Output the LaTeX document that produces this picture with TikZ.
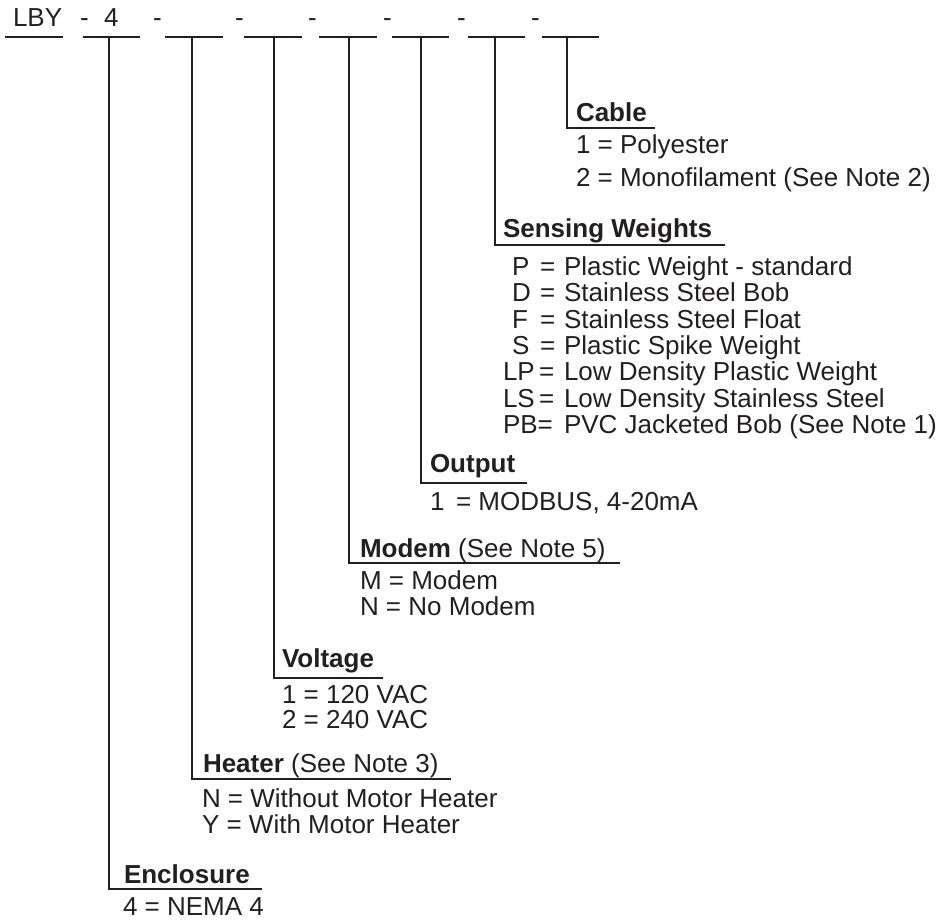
\documentclass[tikz,border=0pt]{standalone}
\usepackage{fontspec}
\setmainfont{Liberation Sans}
\definecolor{ink}{HTML}{231F20}
\begin{document}
\begin{tikzpicture}[x=1pt,y=-1pt,
  txt/.style={anchor=base west,inner sep=0pt,outer sep=0pt,font=\fontsize{26}{26}\selectfont,text=ink},
  lbl/.style={txt,font=\fontsize{26}{26}\selectfont\bfseries},
  topline/.style={draw=ink,line width=2.6pt},
  ln/.style={draw=ink,line width=2.2pt,line join=miter}]
\useasboundingbox (0,0) rectangle (950,920);
% ---------- top code line ----------
\node[txt] (lby) at (13,27) {LBY};
\node[txt] (d1) at (80,27) {-};
\node[txt] (four) at (104,27) {4};
\node[txt] (d2) at (153,27) {-};
\node[txt] (d3) at (235,27) {-};
\node[txt] (d4) at (308,27) {-};
\node[txt] (d5) at (383,27) {-};
\node[txt] (d6) at (457,27) {-};
\node[txt] (d7) at (531,27) {-};
\coordinate (s0a) at (5,37);   \coordinate (s0b) at (63,37);
\coordinate (s1a) at (83,37);  \coordinate (s1b) at (140,37);
\coordinate (s2a) at (165,37); \coordinate (s2b) at (223,37);
\coordinate (s3a) at (244,37); \coordinate (s3b) at (302,37);
\coordinate (s4a) at (319,37); \coordinate (s4b) at (377,37);
\coordinate (s5a) at (392,37); \coordinate (s5b) at (449,37);
\coordinate (s6a) at (468,37); \coordinate (s6b) at (525,37);
\coordinate (s7a) at (542,37); \coordinate (s7b) at (599,37);
\foreach \i in {0,...,7} \draw[topline] (s\i a) -- (s\i b);
% top points of the branches
\coordinate (t1) at (109,37);
\coordinate (t2) at (192,37);
\coordinate (t3) at (274,37);
\coordinate (t4) at (349,37);
\coordinate (t5) at (421,37);
\coordinate (t6) at (495,37);
\coordinate (t7) at (567,37);
% ---------- Cable ----------
\coordinate (c7) at (567,128); \coordinate (e7) at (655,128);
\draw[ln] (t7) -- (c7) -- (e7);
\node[lbl] (cable) at (576,122) {Cable};
\node[txt] (cable1) at (576,154) {1 = Polyester};
\node[txt] (cable2) at (576,186) {2 = Monofilament (See Note 2)};
% ---------- Sensing Weights ----------
\coordinate (c6) at (495,245); \coordinate (e6) at (725,245);
\draw[ln] (t6) -- (c6) -- (e6);
\node[lbl] (sens) at (503,237) {Sensing Weights};
\node[txt] (wP) at (512,275) {P};  \node[txt] (qP) at (540,275) {=}; \node[txt] (tP) at (564,275) {Plastic Weight - standard};
\node[txt] (wD) at (512,301) {D};  \node[txt] (qD) at (540,301) {=}; \node[txt] (tD) at (564,301) {Stainless Steel Bob};
\node[txt] (wF) at (512,328) {F};  \node[txt] (qF) at (540,328) {=}; \node[txt] (tF) at (564,328) {Stainless Steel Float};
\node[txt] (wS) at (512,354) {S};  \node[txt] (qS) at (540,354) {=}; \node[txt] (tS) at (564,354) {Plastic Spike Weight};
\node[txt] (wLP) at (503,380) {LP}; \node[txt] (qLP) at (539,380) {=}; \node[txt] (tLP) at (564,380) {Low Density Plastic Weight};
\node[txt] (wLS) at (503,407) {LS}; \node[txt] (qLS) at (539,407) {=}; \node[txt] (tLS) at (564,407) {Low Density Stainless Steel};
\node[txt] (wPB) at (503,433) {PB=}; \node[txt] (tPB) at (564,433) {PVC Jacketed Bob (See Note 1)};
% ---------- Output ----------
\coordinate (c5) at (421,483); \coordinate (e5) at (527,483);
\draw[ln] (t5) -- (c5) -- (e5);
\node[lbl] (output) at (430,472) {Output};
\node[txt] (out1a) at (430,510) {1};
\node[txt] (out1b) at (456,510) {= MODBUS, 4-20mA};
% ---------- Modem ----------
\coordinate (c4) at (349,563); \coordinate (e4) at (620,563);
\draw[ln] (t4) -- (c4) -- (e4);
\node[txt] (modem) at (360,557) {\textbf{Modem} (See Note 5)};
\node[txt] (modem1) at (360,589) {M = Modem};
\node[txt] (modem2) at (360,615) {N = No Modem};
% ---------- Voltage ----------
\coordinate (c3) at (274,678); \coordinate (e3) at (383,678);
\draw[ln] (t3) -- (c3) -- (e3);
\node[lbl] (volt) at (282,667) {Voltage};
\node[txt] (volt1) at (282,703) {1 = 120 VAC};
\node[txt] (volt2) at (282,728) {2 = 240 VAC};
% ---------- Heater ----------
\coordinate (c2) at (192,779); \coordinate (e2) at (451,779);
\draw[ln] (t2) -- (c2) -- (e2);
\node[txt] (heater) at (203,772) {\textbf{Heater} (See Note 3)};
\node[txt] (heat1) at (202,807) {N = Without Motor Heater};
\node[txt] (heat2) at (202,833) {Y = With Motor Heater};
% ---------- Enclosure ----------
\coordinate (c1) at (109,889); \coordinate (e1) at (262,889);
\draw[ln] (t1) -- (c1) -- (e1);
\node[lbl] (encl) at (124,883) {Enclosure};
\node[txt] (encl1) at (123,915) {4 = NEMA 4};
\end{tikzpicture}
\end{document}
